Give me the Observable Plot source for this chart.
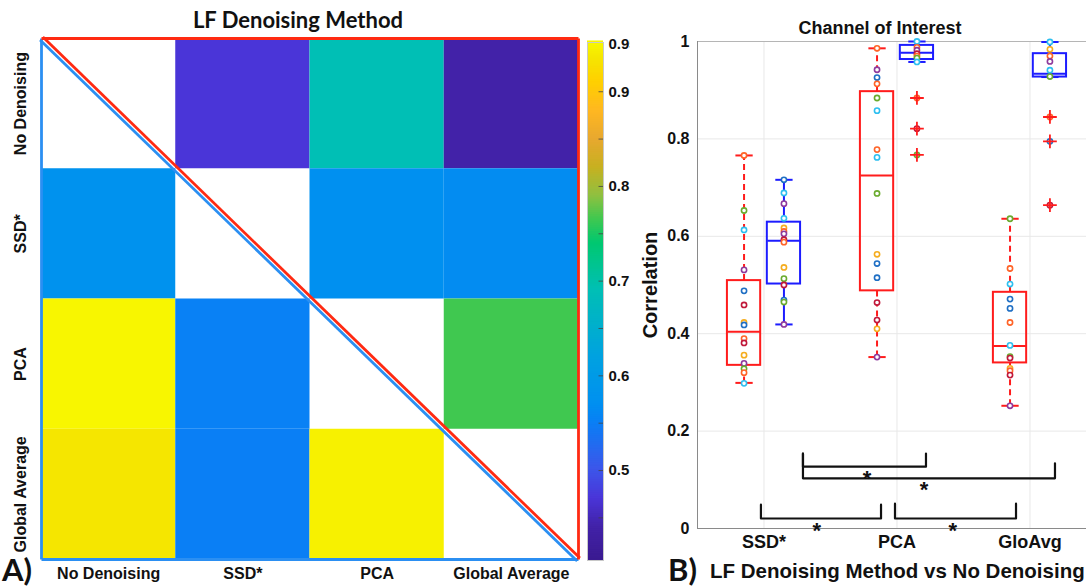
<!DOCTYPE html>
<html><head><meta charset="utf-8">
<script src="https://cdn.jsdelivr.net/npm/d3@7"></script>
<script src="https://cdn.jsdelivr.net/npm/@observablehq/plot@0.6"></script>
<style>
html,body{margin:0;padding:0;background:#fff;overflow:hidden;}
#wrap{position:relative;width:1086px;height:587px;overflow:hidden;font-family:"Liberation Sans",Arial,sans-serif;}
#wrap svg{position:absolute;top:0;}
.lbl{position:absolute;white-space:nowrap;font-weight:bold;color:#111;}
</style></head><body><div id="wrap"></div>
<script>
// ---------- Panel A data ----------
const methods = ["No Denoising", "SSD*", "PCA", "Global Average"];
const heatNoDenoising = [null, 0.47, 0.69, 0.44];
const heatSSD = [0.575, null, 0.57, 0.565];
const heatPCA = [0.95, 0.552, null, 0.765];
const heatGlobalAvg = [0.935, 0.55, 0.945, null];
const colorStops = [0.405, 0.44, 0.47, 0.5, 0.55, 0.57, 0.62, 0.69, 0.74, 0.765, 0.79, 0.82, 0.85, 0.88, 0.91, 0.935, 0.952];
const colorRange = ["#3a1a90","#4222a8","#4a35d8","#3d55ea","#0a7ff5","#0090f0","#00a2e0","#00bfb5","#00c870","#40c850","#90c040","#c8b020","#e8a830","#ffb820","#ffd000","#f5e600","#f8f800"];
const colorbarTicks = [0.5, 0.6, 0.7, 0.8, 0.9, 0.95];
const colorbarMinor = [0.45, 0.5, 0.55, 0.6, 0.65, 0.7, 0.75, 0.8, 0.85, 0.9];

// ---------- Panel B data ----------
const groups = ["SSD*", "PCA", "GloAvg"];
const noDenMin = [0.299, 0.352, 0.252];
const noDenQ1 = [0.335, 0.488, 0.340];
const noDenMedian = [0.404, 0.725, 0.375];
const noDenQ3 = [0.509, 0.897, 0.485];
const noDenMax = [0.766, 0.986, 0.636];
const methodMin = [0.419, 0.958, 0.927];
const methodQ1 = [0.502, 0.963, 0.927];
const methodMedian = [0.591, 0.977, 0.934];
const methodQ3 = [0.629, 0.992, 0.975];
const methodMax = [0.716, 1.0, 0.999];
const methodOutliers = [[], [0.884, 0.821, 0.767], [0.845, 0.795, 0.664]];
const subjects = ["S1","S2","S3","S4","S5","S6","S7"];
// [correlation, subject]
const ssdNoDenoisingPts = [[0.766,2],[0.653,5],[0.613,6],[0.531,4],[0.488,1],[0.459,7],[0.423,3],[0.418,1],[0.390,2],[0.381,7],[0.356,3],[0.339,4],[0.328,5],[0.320,2],[0.298,6]];
const ssdMethodPts = [[0.716,1],[0.689,6],[0.667,4],[0.637,6],[0.617,3],[0.610,2],[0.605,4],[0.593,7],[0.588,2],[0.536,3],[0.513,5],[0.500,7],[0.469,1],[0.465,5],[0.419,4]];
const pcaNoDenoisingPts = [[0.986,2],[0.942,4],[0.926,1],[0.913,2],[0.884,5],[0.858,6],[0.778,2],[0.762,6],[0.688,5],[0.563,3],[0.544,1],[0.515,1],[0.464,7],[0.428,7],[0.410,3],[0.352,4]];
const pcaMethodPts = [[1.0,6],[0.988,2],[0.982,4],[0.975,7],[0.970,2],[0.966,5],[0.958,6],[0.884,2],[0.821,7],[0.767,5]];
const gloNoDenoisingPts = [[0.636,5],[0.534,2],[0.502,6],[0.471,1],[0.452,1],[0.423,2],[0.376,6],[0.353,5],[0.350,7],[0.329,3],[0.324,2],[0.315,7],[0.252,4]];
const gloMethodPts = [[0.999,6],[0.984,3],[0.970,2],[0.959,4],[0.941,6],[0.928,5],[0.845,2],[0.795,1],[0.664,7]];
const yTicks = [0, 0.2, 0.4, 0.6, 0.8, 1];
// significance brackets: left x, right x, left tip, right tip, base
const bracketX1 = [1.293, 1.293, 0.977, 1.985];
const bracketX2 = [2.218, 3.188, 1.880, 2.895];
const bracketTipL = [0.154, 0.154, 0.049, 0.051];
const bracketTipR = [0.154, 0.134, 0.049, 0.051];
const bracketBase = [0.127, 0.103, 0.0205, 0.0205];
const starX = [1.774, 2.203, 1.396, 2.419];
const starY = [0.115, 0.092, 0.008, 0.008];

const wrap = document.getElementById("wrap");
const bold = {fontWeight: "bold", fill: "#111"};

// ---------- Heatmap ----------
const n = methods.length;
const rows = [heatNoDenoising, heatSSD, heatPCA, heatGlobalAvg];
const cells = rows.flatMap((row, r) => row.map((v, c) => ({r, c, v}))).filter(d => d.v != null);
const colorScale = {type: "linear", domain: colorStops, range: colorRange, interpolate: "rgb", clamp: true};
const redEdges = [{a:[0,0], b:[n,0]}, {a:[n,0], b:[n,n]}];
const blueEdges = [{a:[0,0], b:[0,n]}, {a:[0,n], b:[n,n]}];
const diag = [{a:[0,0], b:[n,n]}];
const edgeOpts = (stroke, extra = {}) => ({x1: d => d.a[0], y1: d => d.a[1], x2: d => d.b[0], y2: d => d.b[1], stroke, strokeWidth: 2.8, ...extra});

const heat = Plot.plot({
  width: 585, height: 587, marginLeft: 41, marginRight: 7, marginTop: 38, marginBottom: 28,
  style: {fontFamily: "Liberation Sans, Arial, sans-serif", background: "transparent"},
  x: {domain: [0, n], axis: null},
  y: {domain: [0, n], reverse: true, axis: null},
  color: colorScale,
  marks: [
    Plot.rect(cells, {x1: "c", x2: d => d.c + 1, y1: "r", y2: d => d.r + 1, fill: "v"}),
    Plot.link(diag, edgeOpts("#2b8ff2", {dx: -1.4, dy: 1.4})),
    Plot.link(diag, edgeOpts("#ff2a12", {dx: 1.4, dy: -1.4})),
    Plot.link(blueEdges, edgeOpts("#2b8ff2")),
    Plot.link(redEdges, edgeOpts("#ff2a12")),
    Plot.text(methods, {x: (d, i) => i + 0.5, frameAnchor: "bottom", dy: 19, text: d => d, fontSize: 16, ...bold}),
    Plot.text(methods, {y: (d, i) => i + 0.5, frameAnchor: "left", dx: -21, rotate: -90, textAnchor: "middle", text: d => d, fontSize: 16, ...bold})
  ]
});
heat.style.left = "0px";
wrap.appendChild(heat);

// ---------- Colorbar ----------
const rampStep = 0.002;
const ramp = d3.range(colorStops[0], colorStops[colorStops.length - 1], rampStep);
const cbar = Plot.plot({
  width: 60, height: 587, marginLeft: 2, marginRight: 42, marginTop: 42, marginBottom: 27,
  style: {fontFamily: "Liberation Sans, Arial, sans-serif", background: "transparent", overflow: "visible"},
  x: {domain: [0, 1], axis: null},
  y: {domain: [colorStops[0], colorStops[colorStops.length - 1]], axis: null},
  color: colorScale,
  marks: [
    Plot.rect(ramp, {x1: 0, x2: 1, y1: d => d, y2: d => d + rampStep, fill: d => d, insetTop: -0.6, insetBottom: -0.6}),
    Plot.ruleY(colorbarMinor, {x1: 0.72, x2: 1, stroke: "#444", strokeWidth: 0.8}),
    Plot.frame({stroke: "#c8c8c8"}),
    Plot.text(colorbarTicks, {y: d => d, frameAnchor: "right", dx: 5, textAnchor: "start", text: d => String(d), fontSize: 15, ...bold})
  ]
});
cbar.style.left = "585px";
wrap.appendChild(cbar);

// ---------- Box plot ----------
const redC = "#ff1c1c", blueC = "#1c1cff";
const off = 0.15, half = 0.125, cap = 0.065;
const redBoxes = groups.map((g, i) => ({g, x: i + 1 - off, min: noDenMin[i], q1: noDenQ1[i], med: noDenMedian[i], q3: noDenQ3[i], max: noDenMax[i]}));
const blueBoxes = groups.map((g, i) => ({g, x: i + 1 + off, min: methodMin[i], q1: methodQ1[i], med: methodMedian[i], q3: methodQ3[i], max: methodMax[i]}));
const toPts = (arr, x) => arr.map(([v, s]) => ({x, v, s: subjects[s - 1]}));
const points = [
  ...toPts(ssdNoDenoisingPts, 1 - off), ...toPts(ssdMethodPts, 1 + off),
  ...toPts(pcaNoDenoisingPts, 2 - off), ...toPts(pcaMethodPts, 2 + off),
  ...toPts(gloNoDenoisingPts, 3 - off), ...toPts(gloMethodPts, 3 + off)
];
const outliers = methodOutliers.flatMap((arr, i) => arr.map(v => ({x: i + 1 + off, v})));
const bracketPts = bracketX1.flatMap((x1, i) => [
  {i, x: x1, y: bracketTipL[i]}, {i, x: x1, y: bracketBase[i]},
  {i, x: bracketX2[i], y: bracketBase[i]}, {i, x: bracketX2[i], y: bracketTipR[i]}
]);
const stars = starX.map((x, i) => ({x, y: starY[i]}));

const boxMarks = (data, stroke, dash) => [
  Plot.ruleX(data, {x: "x", y1: "q3", y2: "max", stroke, strokeWidth: 2, strokeDasharray: dash}),
  Plot.ruleX(data, {x: "x", y1: "min", y2: "q1", stroke, strokeWidth: 2, strokeDasharray: dash}),
  Plot.link(data, {x1: d => d.x - cap, x2: d => d.x + cap, y1: "max", y2: "max", stroke, strokeWidth: 2}),
  Plot.link(data, {x1: d => d.x - cap, x2: d => d.x + cap, y1: "min", y2: "min", stroke, strokeWidth: 2}),
  Plot.rect(data, {x1: d => d.x - half, x2: d => d.x + half, y1: "q1", y2: "q3", fill: "none", stroke, strokeWidth: 2}),
  Plot.link(data, {x1: d => d.x - half, x2: d => d.x + half, y1: "med", y2: "med", stroke, strokeWidth: 2})
];

const box = Plot.plot({
  width: 456, height: 587, marginLeft: 67, marginRight: 0, marginTop: 41, marginBottom: 59,
  style: {fontFamily: "Liberation Sans, Arial, sans-serif", background: "white"},
  x: {domain: [0.5, 3.425], axis: null},
  y: {domain: [0, 1], axis: null},
  color: {domain: subjects, range: ["#1f6fc4", "#ff6428", "#f5ad1e", "#8e3a9c", "#6aab2e", "#2ebff0", "#c0183a"]},
  marks: [
    Plot.ruleY(yTicks.slice(1, -1), {stroke: "#e8e8e8"}),
    Plot.ruleX(groups, {x: (d, i) => i + 1, stroke: "#e8e8e8"}),
    Plot.ruleY([1], {stroke: "#b5b5b5"}),
    Plot.ruleY([0], {stroke: "#8a8a8a"}),
    Plot.ruleX([0.5], {stroke: "#8a8a8a"}),
    Plot.text(yTicks, {y: d => d, frameAnchor: "left", dx: -8, textAnchor: "end", text: d => String(d), fontSize: 16, ...bold}),
    Plot.text(groups, {x: (d, i) => i + 1, frameAnchor: "bottom", dy: 19, text: d => d, fontSize: 18, ...bold}),
    Plot.text(["Correlation"], {frameAnchor: "left", dx: -47, rotate: -90, textAnchor: "middle", text: d => d, fontSize: 20, ...bold}),
    ...boxMarks(redBoxes, redC, "6,4"),
    ...boxMarks(blueBoxes, blueC, null),
    Plot.dot(points, {x: "x", y: "v", stroke: "s", fill: "white", r: 2.6, strokeWidth: 1.6}),
    Plot.dot(outliers, {x: "x", y: "v", symbol: "plus", stroke: redC, r: 4.5, strokeWidth: 1.8}),
    Plot.line(bracketPts, {x: "x", y: "y", z: "i", stroke: "#111", strokeWidth: 2.2}),
    Plot.text(stars, {x: "x", y: "y", text: () => "*", fontSize: 22, dy: 6, ...bold})
  ]
});
box.style.left = "630px";
wrap.appendChild(box);

// ---------- Titles and panel labels ----------
function label(text, left, centerY, size, family, anchor) {
  const d = document.createElement("div");
  d.className = "lbl";
  d.textContent = text;
  d.style.fontSize = size + "px";
  d.style.lineHeight = size + "px";
  d.style.top = (centerY - size / 2) + "px";
  if (family) d.style.fontFamily = family;
  d.style.left = left + "px";
  if (anchor === "middle") d.style.transform = "translateX(-50%)";
  wrap.appendChild(d);
}
label("LF Denoising Method", 298, 20, 22, "Lato, sans-serif", "middle");
label("Channel of Interest", 880, 28, 18, null, "middle");
label("A)", 2, 569, 31, "Lato, sans-serif");
label("B)", 668, 569, 31, "Lato, sans-serif");
label("LF Denoising Method vs No Denoising", 710, 571, 20.5, null);
</script></body></html>
